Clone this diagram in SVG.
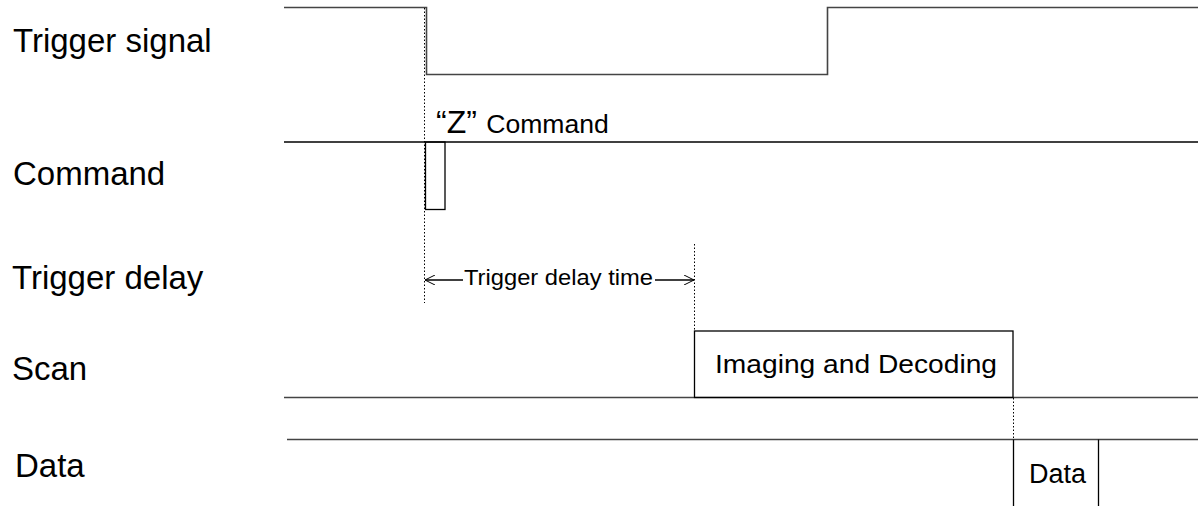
<svg xmlns="http://www.w3.org/2000/svg" width="1198" height="506" viewBox="0 0 1198 506">
<style>
.lbl{font-family:"Liberation Sans",Arial,sans-serif;font-size:33px;fill:#000}
.sig{fill:none;stroke:#444;stroke-width:1.6}
.ln{fill:none;stroke:#000;stroke-width:1.3}
.dot{fill:none;stroke:#000;stroke-width:1;stroke-dasharray:1.5 2}
.mid{font-family:"Liberation Sans",Arial,sans-serif;fill:#000}
</style>
<defs>
<marker id="ah" viewBox="0 0 10 10" refX="10" refY="5" markerWidth="10" markerHeight="10" markerUnits="userSpaceOnUse" orient="auto-start-reverse">
<path d="M0,0 L10,5 L0,10" fill="none" stroke="#000" stroke-width="1"/>
</marker>
</defs>
<g id="labels">
<text class="lbl" x="13" y="52">Trigger signal</text>
<text class="lbl" x="13" y="185">Command</text>
<text class="lbl" x="12" y="289">Trigger delay</text>
<text class="lbl" x="12" y="380">Scan</text>
<text class="lbl" x="15" y="477">Data</text>
</g>
<g id="trigger-signal">
<path class="sig" d="M284,7.5 H426.5 V74.5 H827.5 V7.5 H1198"/>
</g>
<g id="command">
<line class="ln" x1="284" y1="142" x2="1198" y2="142"/>
<rect class="ln" x="425.5" y="142" width="19.5" height="67.5"/>
<text class="mid" x="436" y="133"><tspan font-size="32">“Z”</tspan><tspan font-size="26" dx="2" textLength="130" lengthAdjust="spacingAndGlyphs"> Command</tspan></text>
</g>
<g id="trigger-delay">
<text class="mid" x="464" y="285" font-size="22" textLength="189" lengthAdjust="spacingAndGlyphs">Trigger delay time</text>
</g>
<g id="scan">
<line class="sig" x1="284" y1="397.5" x2="1198" y2="397.5"/>
<rect class="ln" x="694.5" y="331" width="318.5" height="66.5"/>
<text class="mid" x="715" y="373" font-size="26" textLength="282" lengthAdjust="spacingAndGlyphs">Imaging and Decoding</text>
</g>
<g id="data">
<line class="sig" x1="287" y1="439.5" x2="1198" y2="439.5"/>
<line class="ln" x1="1013.5" y1="439.5" x2="1013.5" y2="506"/>
<line class="ln" x1="1098.5" y1="439.5" x2="1098.5" y2="506"/>
<text class="mid" x="1029" y="483" font-size="27">Data</text>
</g>
<g id="connectors">
<line class="dot" x1="424.5" y1="8" x2="424.5" y2="303"/>
<line class="dot" x1="694.5" y1="244" x2="694.5" y2="331"/>
<line class="dot" x1="1013.5" y1="398" x2="1013.5" y2="439"/>
<line class="ln" x1="425" y1="280" x2="463" y2="280" marker-start="url(#ah)"/>
<line class="ln" x1="655" y1="280" x2="694" y2="280" marker-end="url(#ah)"/>
</g>
</svg>
